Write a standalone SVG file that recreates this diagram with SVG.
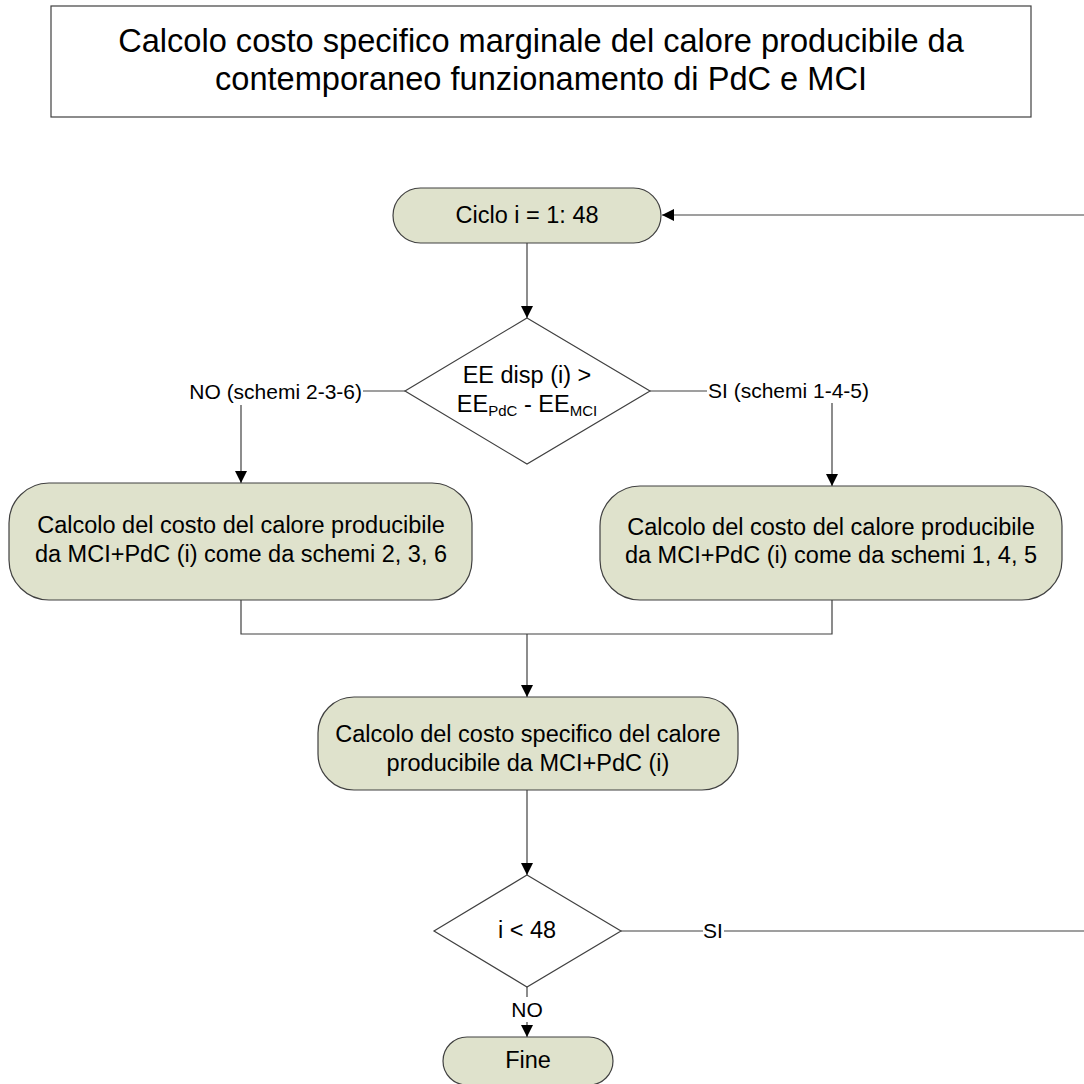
<svg xmlns="http://www.w3.org/2000/svg" width="1084" height="1084" viewBox="0 0 1084 1084">
  <style>
    text { font-family: "Liberation Sans", Arial, sans-serif; fill: #000; }
    .title { font-size: 32.6px; text-anchor: middle; }
    .node { font-size: 23.5px; text-anchor: middle; }
    .lbl { font-size: 21px; }
    .box { fill: #dfe2cc; stroke: #404040; stroke-width: 1.2; }
    .dia { fill: #fff; stroke: #404040; stroke-width: 1.2; }
    .wire { fill: none; stroke: #404040; stroke-width: 1.2; }
    .arr { marker-end: url(#head); }
  </style>
  <defs>
    <marker id="head" viewBox="0 0 12 12" refX="12" refY="6" markerWidth="13" markerHeight="12" markerUnits="userSpaceOnUse" orient="auto">
      <path d="M0,0 L12,6 L0,12 Z" fill="#000"/>
    </marker>
  </defs>
  <rect width="1084" height="1084" fill="#fff"/>

  <g id="title">
    <rect x="51" y="6" width="980" height="111" fill="#fff" stroke="#404040" stroke-width="1.2"/>
    <text class="title" x="541" y="52">Calcolo costo specifico marginale del calore producibile da</text>
    <text class="title" x="541" y="90">contemporaneo funzionamento di PdC e MCI</text>
  </g>

  <g id="connectors">
    <!-- loop return into the cycle start -->
    <path class="wire arr" d="M1084,215 L662,215"/>
    <path class="wire arr" d="M527,243 L527,318"/>
    <!-- left branch -->
    <path class="wire" d="M405,391 L363,391"/>
    <path class="wire arr" d="M241,405 L241,483"/>
    <!-- right branch -->
    <path class="wire" d="M650,391 L707,391"/>
    <path class="wire arr" d="M832,403 L832,486"/>
    <!-- merge -->
    <path class="wire" d="M241,600 L241,634 L832,634 L832,600"/>
    <path class="wire arr" d="M527,634 L527,697"/>
    <path class="wire arr" d="M527,790 L527,875"/>
    <!-- loop test -->
    <path class="wire" d="M621,931 L703,931"/>
    <path class="wire" d="M724,931 L1084,931"/>
    <path class="wire" d="M527,987 L527,997"/>
    <path class="wire arr" d="M527,1022 L527,1037"/>
    <text class="lbl" x="362" y="399" text-anchor="end">NO (schemi 2-3-6)</text>
    <text class="lbl" x="708" y="398">SI (schemi 1-4-5)</text>
    <text class="lbl" x="713" y="938" text-anchor="middle">SI</text>
    <text class="lbl" x="527" y="1017" text-anchor="middle">NO</text>
  </g>

  <g id="start">
    <rect class="box" x="393" y="188" width="268" height="55" rx="27.5"/>
    <text class="node" x="527" y="223">Ciclo i = 1: 48</text>
  </g>

  <g id="check-ee">
    <polygon class="dia" points="527,318 650,391 527,464 405,391"/>
    <text class="node" x="527" y="383">EE disp (i) &gt;</text>
    <text class="node" x="527" y="412">EE<tspan font-size="15" dy="4">PdC</tspan><tspan dy="-4"> - EE</tspan><tspan font-size="15" dy="4">MCI</tspan></text>
  </g>

  <g id="cost-236">
    <rect class="box" x="9" y="483" width="463" height="117" rx="40"/>
    <text class="node" x="241" y="533">Calcolo del costo del calore producibile</text>
    <text class="node" x="241" y="562">da MCI+PdC (i) come da schemi 2, 3, 6</text>
  </g>

  <g id="cost-145">
    <rect class="box" x="600" y="486" width="462" height="114" rx="40"/>
    <text class="node" x="831" y="535">Calcolo del costo del calore producibile</text>
    <text class="node" x="831" y="563">da MCI+PdC (i) come da schemi 1, 4, 5</text>
  </g>

  <g id="specific-cost">
    <rect class="box" x="318" y="697" width="420" height="93" rx="36"/>
    <text class="node" x="528" y="742">Calcolo del costo specifico del calore</text>
    <text class="node" x="528" y="771">producibile da MCI+PdC (i)</text>
  </g>

  <g id="check-i">
    <polygon class="dia" points="527,875 621,931 527,987 434,931"/>
    <text class="node" x="527" y="938">i &lt; 48</text>
  </g>

  <g id="end">
    <rect class="box" x="443" y="1037" width="170" height="48" rx="24"/>
    <text class="node" x="528" y="1068">Fine</text>
  </g>
</svg>
